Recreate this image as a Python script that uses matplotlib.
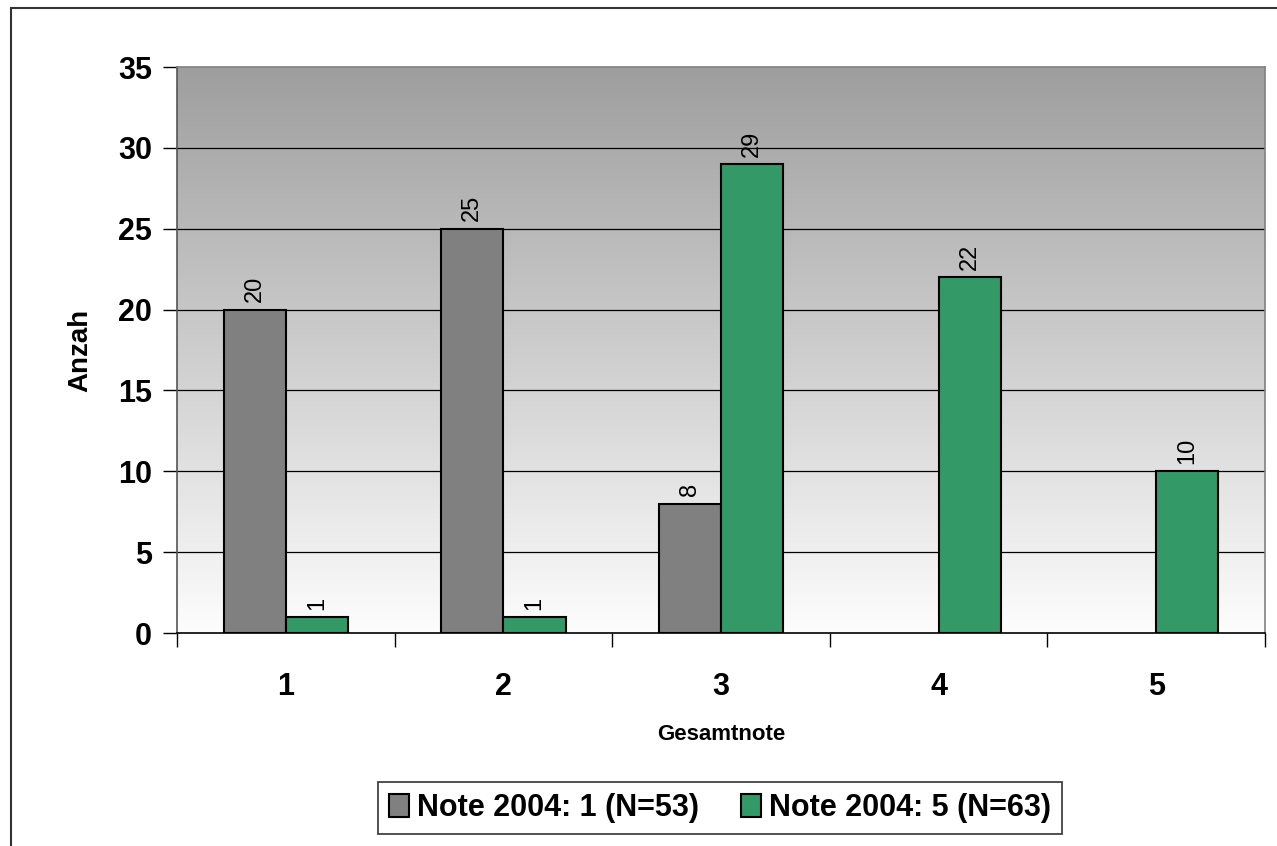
import numpy as np
import matplotlib.pyplot as plt
from matplotlib.patches import Rectangle
from matplotlib.colors import LinearSegmentedColormap

# data
categories = ["1", "2", "3", "4", "5"]
note_1 = [20, 25, 8, 0, 0]
note_5 = [1, 1, 29, 22, 10]
series_names = ["Note 2004: 1 (N=53)", "Note 2004: 5 (N=63)"]
colors = ["#808080", "#339966"]

plt.rcParams['font.family'] = ['Liberation Sans', 'DejaVu Sans']

fig = plt.figure(figsize=(12.77, 8.46), dpi=100)
W, H = 1277, 846
ax = fig.add_axes([177 / W, 1 - 633 / H, (1265 - 177) / W, (633 - 67) / H])

# outer chart frame (cut off at right/bottom like the source)
fig.patches.append(Rectangle((11 / W, -0.1), 1.2, 1 - 8 / H + 0.1, transform=fig.transFigure,
                             fill=False, edgecolor="#333333", linewidth=1.5))

# gradient background
grad = np.linspace(0, 1, 256).reshape(-1, 1)
cmap = LinearSegmentedColormap.from_list("bg", ["#fdfdfd", "#9e9e9e"])
ax.imshow(grad, aspect="auto", cmap=cmap, origin="lower",
          extent=[0.5, 5.5, 0, 35], zorder=0)

x = np.arange(1, len(categories) + 1)
w = 1 / 3.5
ax.set_xlim(0.5, 5.5)
ax.set_ylim(0, 35)

for yv in range(5, 35, 5):
    ax.axhline(yv, color="black", linewidth=0.9, zorder=1)

b1 = ax.bar(x - w / 2, note_1, w, color=colors[0], edgecolor="black", linewidth=1.5,
            label=series_names[0], zorder=2)
b2 = ax.bar(x + w / 2, note_5, w, color=colors[1], edgecolor="black", linewidth=1.5,
            label=series_names[1], zorder=2)
for bars, vals in [(b1, note_1), (b2, note_5)]:
    for r, v in zip(bars, vals):
        if v == 0:
            r.set_visible(False)
            continue
        ax.text(r.get_x() + r.get_width() / 2, v + 0.45, str(v), rotation=90,
                ha="center", va="bottom", fontsize=17)

ax.set_yticks(range(0, 36, 5))
ax.set_yticklabels([str(v) for v in range(0, 36, 5)], fontsize=22, fontweight="bold")
ax.set_xticks(x)
ax.set_xticklabels(categories, fontsize=22, fontweight="bold")
ax.tick_params(axis="x", length=0, pad=28)
ax.tick_params(axis="y", length=10, width=1, direction="out", pad=8)
# boundary ticks on the x axis
ax.set_xticks(np.arange(0.5, 5.6, 1), minor=True)
ax.tick_params(axis="x", which="minor", length=10, width=1, direction="out")

ax.spines["top"].set_color("#808080")
ax.spines["right"].set_color("#808080")
ax.spines["left"].set_color("#555555")
ax.spines["bottom"].set_color("black")
for s in ax.spines.values():
    s.set_linewidth(1.2)

ax.set_xlabel("Gesamtnote", fontsize=16, fontweight="bold", labelpad=16)
ax.set_ylabel("Anzah", fontsize=20, fontweight="bold", labelpad=18)

leg = fig.legend(handles=[b1, b2], loc="center", bbox_to_anchor=(720 / W, 1 - 808 / H),
                 ncol=2, prop={"weight": "bold", "size": 22},
                 frameon=True, fancybox=False, edgecolor="black", handlelength=0.65,
                 handleheight=0.75, handletextpad=0.25, columnspacing=1.4, borderpad=0.35)
leg.get_frame().set_linewidth(1.2)

fig.savefig("out.png", dpi=100)
